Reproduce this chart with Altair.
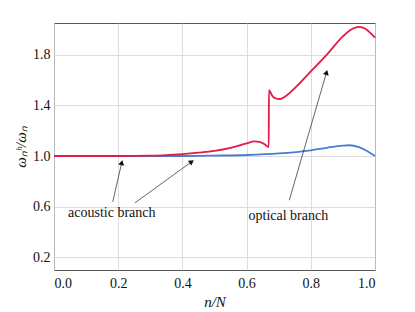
import altair as alt
import pandas as pd
import numpy as np

# optical branch (red)
opt_x = [0.0, 0.1, 0.2, 0.25, 0.3, 0.35, 0.4, 0.45, 0.5, 0.55, 0.6, 0.625, 0.64, 0.655, 0.669,
         0.6695, 0.68, 0.69, 0.704, 0.72, 0.75, 0.8, 0.85, 0.9, 0.93, 0.95, 0.97, 0.99, 1.0]
opt_y = [1.0, 1.0, 1.0, 1.001, 1.003, 1.007, 1.015, 1.026, 1.04, 1.064, 1.1, 1.116, 1.112, 1.095, 1.07,
         1.52, 1.475, 1.455, 1.45, 1.47, 1.536, 1.668, 1.8, 1.945, 2.005, 2.02, 2.005, 1.96, 1.935]
# acoustic branch (blue)
aco_x = [0.0, 0.2, 0.4, 0.5, 0.6, 0.7, 0.8, 0.85, 0.9, 0.92, 0.95, 0.975, 1.0]
aco_y = [1.0, 1.0, 1.0, 1.003, 1.008, 1.02, 1.045, 1.065, 1.082, 1.085, 1.07, 1.04, 1.0]

# annotations
ann_text = ["acoustic branch", "optical branch"]
ann_tx = [0.18, 0.73]
ann_ty = [0.55, 0.525]
arr_x1 = [0.183, 0.252, 0.733]
arr_y1 = [0.638, 0.63, 0.651]
arr_x2 = [0.211, 0.429, 0.849]
arr_y2 = [0.947, 0.955, 1.66]

W, H = 321, 247
YMIN, YMAX = 0.1, 2.05
FONT = "Liberation Serif"

opt = pd.DataFrame({"x": opt_x, "y": opt_y, "o": range(len(opt_x))})
aco = pd.DataFrame({"x": aco_x, "y": aco_y, "o": range(len(aco_x))})

arr = pd.DataFrame({"x1": arr_x1, "y1": arr_y1, "x2": arr_x2, "y2": arr_y2})
dx = (arr.x2 - arr.x1) * W
dy = (arr.y2 - arr.y1) * H / (YMAX - YMIN)
arr["angle"] = np.degrees(np.arctan2(dx, dy)) % 360

txt = pd.DataFrame({"t": ann_text, "x": ann_tx, "y": ann_ty})

xs = alt.Scale(domain=[0, 1], nice=False)
ys = alt.Scale(domain=[YMIN, YMAX], nice=False)

xax = alt.Axis(values=[0, 0.2, 0.4, 0.6, 0.8, 1.0], format=".1f", title="n/N",
               titleFontStyle="italic", titleFontWeight="normal", ticks=False, domain=False,
               labelPadding=6, titlePadding=4)
yax = alt.Axis(values=[0.2, 0.6, 1.0, 1.4, 1.8], format=".1f", title="ωₙʰ/ωₙ",
               titleFontStyle="italic", titleFontWeight="normal", ticks=False, domain=False,
               labelPadding=4, titlePadding=4)

blue = alt.Chart(aco).mark_line(strokeWidth=1.8, color="#4A7DD0", interpolate="monotone").encode(
    x=alt.X("x:Q", scale=xs, axis=xax),
    y=alt.Y("y:Q", scale=ys, axis=yax),
    order="o:Q",
)
red = alt.Chart(opt).mark_line(strokeWidth=1.8, color="#E31A4A", interpolate="monotone").encode(
    x="x:Q", y="y:Q", order="o:Q",
)

rules = alt.Chart(arr).mark_rule(color="#222", strokeWidth=0.7).encode(
    x="x1:Q", y="y1:Q", x2="x2:Q", y2="y2:Q")
heads = alt.Chart(arr).mark_point(shape="triangle-up", filled=True, color="#111", size=35, opacity=1).encode(
    x="x2:Q", y="y2:Q", angle=alt.Angle("angle:Q", scale=None))
texts = alt.Chart(txt).mark_text(font=FONT, fontSize=14, color="#111").encode(
    x="x:Q", y="y:Q", text="t:N")

chart = alt.layer(blue, red, rules, heads, texts).properties(
    width=W, height=H, padding={"left": 5, "top": 15, "right": 5, "bottom": 5}
).configure_view(stroke="#555", strokeWidth=1).configure_axis(
    labelFont=FONT, titleFont=FONT, labelFontSize=14, titleFontSize=15,
    labelColor="#111", titleColor="#111", gridColor="#d4d4d4", gridWidth=0.8
)

chart.save("out.html", embed_options={"renderer": "svg", "actions": False})
